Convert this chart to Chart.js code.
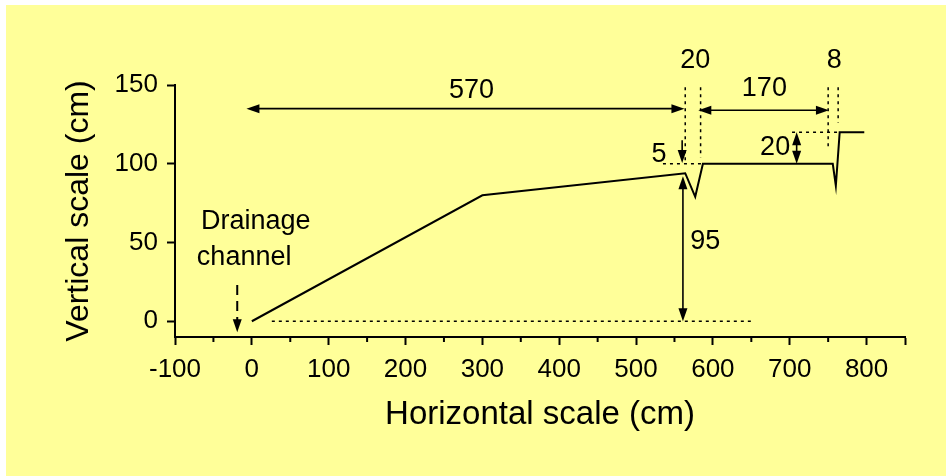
<!DOCTYPE html>
<html>
<head>
<meta charset="utf-8">
<script src="https://cdn.jsdelivr.net/npm/chart.js@4/dist/chart.umd.min.js"></script>
<style>
  html, body { margin: 0; padding: 0; background: #fff; }
</style>
</head>
<body>
<canvas id="chart" width="946" height="476"></canvas>
<script>
// ground profile (cm)
const profileX = [0, 300, 564, 577, 587, 756, 760, 765, 797];
const profileY = [0, 80, 94, 79, 100, 100, 86, 120, 120];

const xTicks = [-100, 0, 100, 200, 300, 400, 500, 600, 700, 800, 850];
const xMinorTicks = [-50, 50, 150, 250, 350, 450, 550, 650, 750];
const yTicks = [0, 50, 100, 150];

// dotted guide lines: [x1, y1, x2, y2]
const guideLines = [
  [26, 0, 652, 0],
  [564, 153, 564, 100],
  [584, 153, 584, 104],
  [535, 100, 587, 100],
  [750, 153, 750, 109],
  [763, 153, 763, 126],
  [703, 120, 763, 120]
];

// dimension arrows: [x1, y1, x2, y2, both heads?, dashed?]
const dimArrows = [
  [-7, 135, 563, 135, true, false],
  [581, 134, 751, 134, true, false],
  [560, 115, 560, 100.5, false, false],
  [709, 120, 709, 100, true, false],
  [561, 92, 561, 0, true, false],
  [-19, 23, -19, -7, false, true]
];

// text labels: [text, x, y]
const dimLabels = [
  ["570", 286, 146.5],
  ["20", 577, 165.5],
  ["170", 667, 148],
  ["8", 758, 165.5],
  ["5", 530, 106],
  ["20", 681, 110],
  ["95", 590, 50.3],
  ["Drainage", 5, 63.6],
  ["channel", -10, 40.2]
];

const FONT = "'Liberation Sans', Arial, sans-serif";

const bgPlugin = {
  id: "bg",
  beforeDraw(chart) {
    const ctx = chart.ctx;
    ctx.save();
    ctx.fillStyle = "#FFFF99";
    ctx.fillRect(6, 5, chart.width - 6, chart.height - 5);
    ctx.restore();
  }
};

const annotPlugin = {
  id: "annot",
  afterDraw(chart) {
    const ctx = chart.ctx;
    const xs = chart.scales.x, ys = chart.scales.y;
    const bottom = chart.chartArea.bottom;
    ctx.save();
    // minor x ticks
    ctx.strokeStyle = "#000";
    ctx.lineWidth = 2;
    xMinorTicks.forEach(v => {
      const px = xs.getPixelForValue(v);
      ctx.beginPath();
      ctx.moveTo(px, bottom);
      ctx.lineTo(px, bottom + 5);
      ctx.stroke();
    });

    const head = (x, y, ang) => {
      const L = 13, W = 4.5;
      ctx.beginPath();
      ctx.moveTo(x, y);
      ctx.lineTo(x - L * Math.cos(ang) + W * Math.sin(ang), y - L * Math.sin(ang) - W * Math.cos(ang));
      ctx.lineTo(x - L * Math.cos(ang) - W * Math.sin(ang), y - L * Math.sin(ang) + W * Math.cos(ang));
      ctx.closePath();
      ctx.fill();
    };
    ctx.fillStyle = "#000";
    dimArrows.forEach(a => {
      const x1 = xs.getPixelForValue(a[0]), y1 = ys.getPixelForValue(a[1]);
      const x2 = xs.getPixelForValue(a[2]), y2 = ys.getPixelForValue(a[3]);
      const ang = Math.atan2(y2 - y1, x2 - x1);
      ctx.lineWidth = a[5] ? 2 : 1.6;
      ctx.setLineDash(a[5] ? [10, 6] : []);
      ctx.beginPath();
      ctx.moveTo(a[4] ? x1 + 8 * Math.cos(ang) : x1, a[4] ? y1 + 8 * Math.sin(ang) : y1);
      ctx.lineTo(x2 - 8 * Math.cos(ang), y2 - 8 * Math.sin(ang));
      ctx.stroke();
      ctx.setLineDash([]);
      head(x2, y2, ang);
      if (a[4]) head(x1, y1, ang + Math.PI);
    });

    ctx.font = "27px " + FONT;
    ctx.textAlign = "center";
    ctx.textBaseline = "middle";
    dimLabels.forEach(t => {
      ctx.fillText(t[0], xs.getPixelForValue(t[1]), ys.getPixelForValue(t[2]));
    });
    ctx.restore();
  }
};

const datasets = [{
  data: profileX.map((x, i) => ({ x: x, y: profileY[i] })),
  borderColor: "#000",
  borderWidth: 2,
  pointRadius: 0,
  tension: 0
}];
guideLines.forEach(g => {
  datasets.push({
    data: [{ x: g[0], y: g[1] }, { x: g[2], y: g[3] }],
    borderColor: "#000",
    borderWidth: 1.5,
    borderDash: [3, 4],
    pointRadius: 0
  });
});

new Chart(document.getElementById("chart"), {
  type: "line",
  data: { datasets: datasets },
  plugins: [bgPlugin, annotPlugin],
  options: {
    responsive: false,
    devicePixelRatio: 1,
    animation: false,
    layout: { padding: { left: 60, top: 85, right: 41, bottom: 41 } },
    plugins: { legend: { display: false }, tooltip: { enabled: false } },
    scales: {
      x: {
        type: "linear",
        min: -100,
        max: 850,
        afterBuildTicks: s => { s.ticks = xTicks.map(v => ({ value: v })); },
        afterFit: s => { s.height = 98; },
        grid: { drawOnChartArea: false, drawTicks: true, tickLength: 8, tickWidth: 2, tickColor: "#000" },
        border: { color: "#000", width: 2 },
        ticks: {
          color: "#000",
          padding: 9,
          maxRotation: 0,
          autoSkip: false,
          font: { family: FONT, size: 26 },
          callback: v => (v === 850 ? "" : v)
        },
        title: {
          display: true,
          text: "Horizontal scale (cm)",
          color: "#000",
          padding: 0,
          font: { family: FONT, size: 33 }
        }
      },
      y: {
        min: -10,
        max: 150,
        afterBuildTicks: s => { s.ticks = yTicks.map(v => ({ value: v })); },
        afterFit: s => { s.width = 115; },
        grid: { drawOnChartArea: false, drawTicks: true, tickLength: 8, tickWidth: 2, tickColor: "#000" },
        border: { color: "#000", width: 2 },
        ticks: {
          color: "#000",
          padding: 9,
          autoSkip: false,
          font: { family: FONT, size: 26 }
        },
        title: {
          display: true,
          text: "Vertical scale (cm)",
          color: "#000",
          padding: 0,
          font: { family: FONT, size: 32 }
        }
      }
    }
  }
});
</script>
</body>
</html>
